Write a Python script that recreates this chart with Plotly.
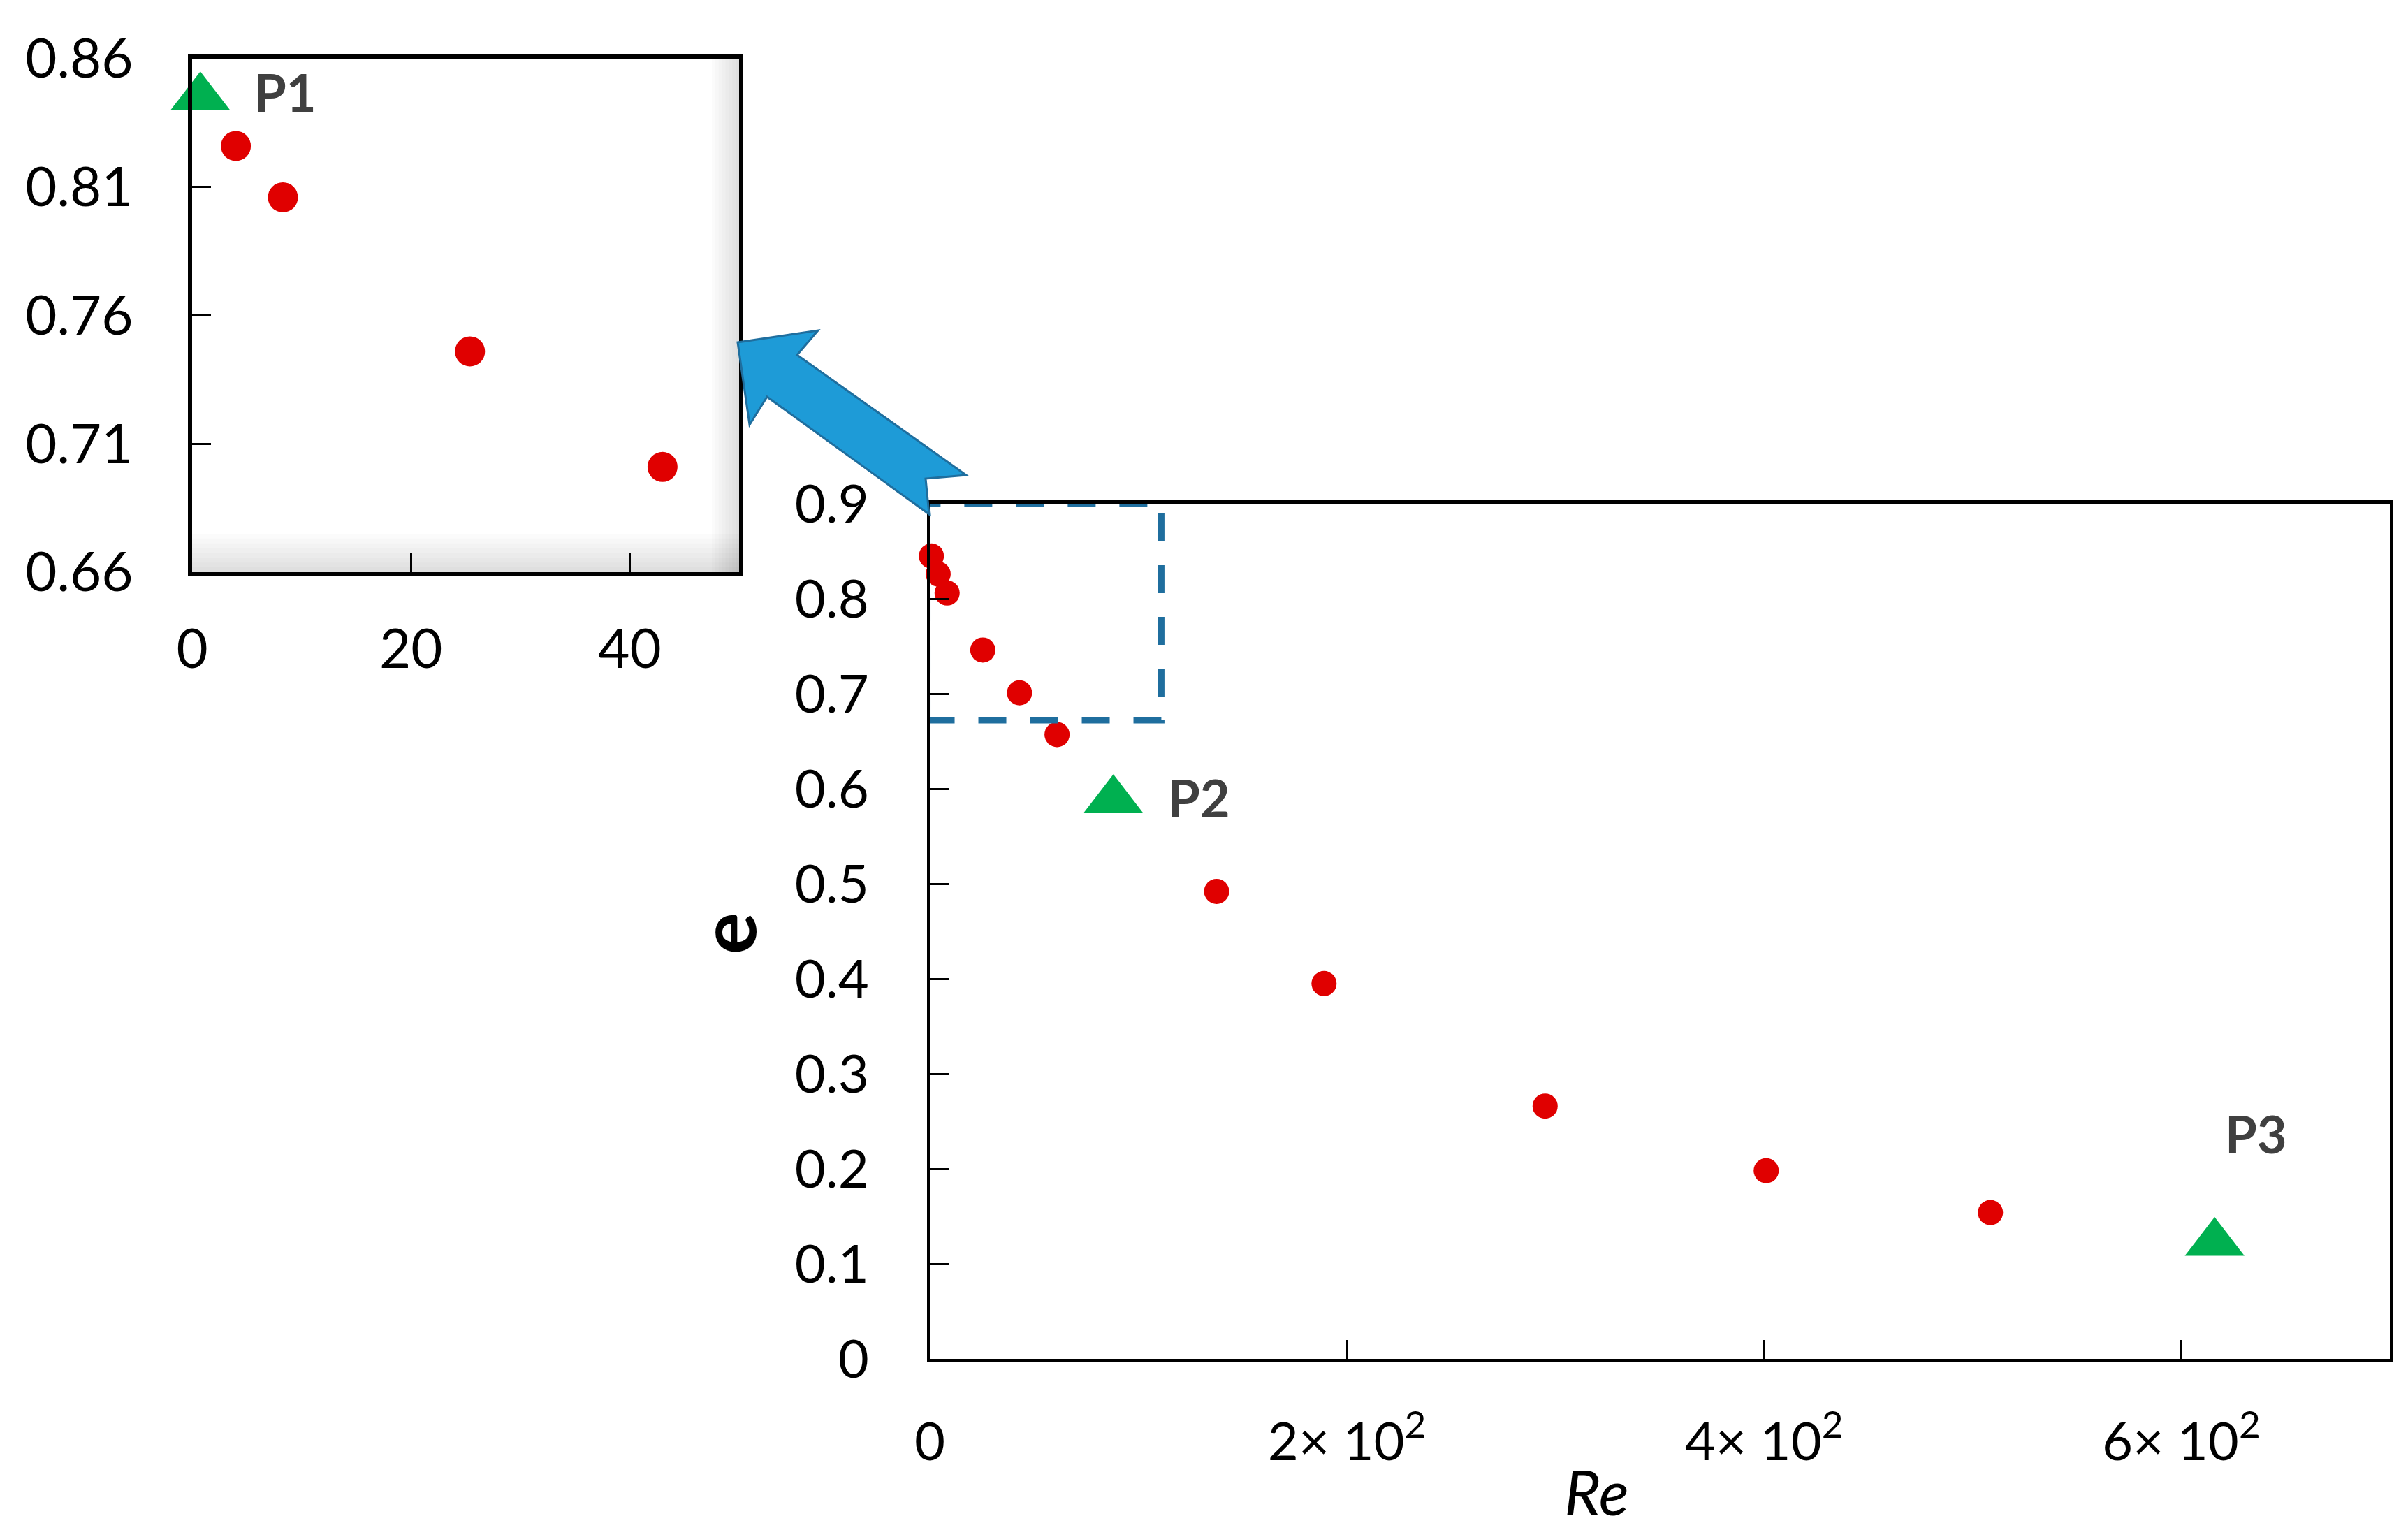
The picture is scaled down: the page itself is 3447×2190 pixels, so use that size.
import plotly.graph_objects as go

# measured points (Re, e)
re_pts = [4.0, 8.3, 25.4, 43.0, 61.0, 137.5, 189.0, 295.0, 401.0, 508.5]
e_pts = [0.826, 0.806, 0.746, 0.701, 0.657, 0.492, 0.395, 0.266, 0.198, 0.154]

# highlighted points
p_names = ['P1', 'P2', 'P3']
p_re = [0.75, 88.0, 616.0]
p_e = [0.845, 0.588, 0.122]

main_xticks = [0, 200, 400, 600]
main_xtext = ['0', '2× 10<sup>2</sup>', '4× 10<sup>2</sup>', '6× 10<sup>2</sup>']
main_yticks = [0, 0.1, 0.2, 0.3, 0.4, 0.5, 0.6, 0.7, 0.8, 0.9]
main_ytext = ['0', '0.1', '0.2', '0.3', '0.4', '0.5', '0.6', '0.7', '0.8', '0.9']
inset_xticks = [0, 20, 40]
inset_yticks = [0.66, 0.71, 0.76, 0.81, 0.86]
inset_ytext = ['0.66', '0.71', '0.76', '0.81', '0.86']

W, H = 3447, 2190
FONT = 'Lato'
RED = '#E00000'
GREEN = '#00B050'
DASH_BLUE = '#1F6E9E'


def px_x(v):
    return v / W


def px_y(v):
    return 1 - v / H


fig = go.Figure()

# main plot: P1 shown as a plain red point, P2/P3 as green triangles
fig.add_trace(go.Scatter(
    x=[p_re[0]] + re_pts, y=[p_e[0]] + e_pts, mode='markers',
    marker=dict(color=RED, size=36), cliponaxis=False,
    xaxis='x', yaxis='y', showlegend=False))
fig.add_trace(go.Scatter(
    x=p_re[1:], y=p_e[1:], mode='markers',
    marker=dict(color=GREEN, size=74, symbol='triangle-up'), cliponaxis=False,
    xaxis='x', yaxis='y', showlegend=False))

# inset (zoom on the low-Re points)
inset_re = [r for r in re_pts if r <= 50]
inset_e = [e for r, e in zip(re_pts, e_pts) if r <= 50]
fig.add_trace(go.Scatter(
    x=inset_re, y=inset_e, mode='markers',
    marker=dict(color=RED, size=43), cliponaxis=False,
    xaxis='x2', yaxis='y2', showlegend=False))
fig.add_trace(go.Scatter(
    x=[p_re[0]], y=[p_e[0]], mode='markers',
    marker=dict(color=GREEN, size=74, symbol='triangle-up'), cliponaxis=False,
    xaxis='x2', yaxis='y2', showlegend=False))

axis_common = dict(showgrid=False, zeroline=False, showline=True, linecolor='black',
                   mirror=True, ticks='inside', tickcolor='black', tickwidth=3,
                   ticklen=27, automargin=False)

fig.update_layout(
    width=W, height=H, autosize=False,
    margin=dict(l=0, r=0, t=0, b=0),
    paper_bgcolor='white', plot_bgcolor='white',
    font=dict(family=FONT, color='black'),
    xaxis=dict(domain=[px_x(1323), px_x(3413)], range=[0, 700], anchor='y',
               tickvals=main_xticks, ticktext=main_xtext, linewidth=5,
               tickfont=dict(size=76), ticklabelstandoff=49, **axis_common),
    yaxis=dict(domain=[px_y(1937), px_y(713)], range=[0, 0.9], anchor='x',
               tickvals=main_yticks, ticktext=main_ytext, linewidth=4,
               tickfont=dict(size=76), ticklabelstandoff=68, **axis_common),
    xaxis2=dict(domain=[px_x(267), px_x(1050)], range=[0, 50], anchor='y2',
                tickvals=inset_xticks, linewidth=6,
                tickfont=dict(size=78), ticklabelstandoff=37, **axis_common),
    yaxis2=dict(domain=[px_y(811), px_y(76)], range=[0.66, 0.86], anchor='x2',
                tickvals=inset_yticks, ticktext=inset_ytext, linewidth=6,
                tickfont=dict(size=78), ticklabelstandoff=63, **axis_common),
)

# point labels
label_offsets = {'P1': ('x2', 'y2', 7.8, 0.002),
                 'P2': ('x', 'y', 41, 0.003),
                 'P3': ('x', 'y', 20, 0.115)}
for name, r, e in zip(p_names, p_re, p_e):
    xr, yr, dx, dy = label_offsets[name]
    fig.add_annotation(x=r + dx, y=e + dy, xref=xr, yref=yr, text='<b>%s</b>' % name,
                       showarrow=False, xanchor='center', yanchor='middle',
                       font=dict(size=74, color='#404040'))

# axis titles
fig.add_annotation(x=px_x(1030), y=px_y(1328), xref='paper', yref='paper', text='<b>e</b>',
                   textangle=-90, showarrow=False, xanchor='center', yanchor='middle',
                   font=dict(size=112, color='black'))
fig.add_annotation(x=px_x(2277), y=px_y(2126), xref='paper', yref='paper', text='<i>Re</i>',
                   showarrow=False, xanchor='center', yanchor='middle',
                   font=dict(size=90, color='black'))

# bevel shading inside the inset frame
for i in range(1, 9):
    fig.add_shape(type='rect', xref='x2 domain', yref='y2 domain',
                  x0=1 - 0.05 * i / 8, x1=1, y0=0, y1=1, layer='below',
                  line=dict(width=0), fillcolor='rgba(0,0,0,0.016)')
    fig.add_shape(type='rect', xref='x2 domain', yref='y2 domain',
                  x0=0, x1=1, y0=0, y1=0.075 * i / 8, layer='below',
                  line=dict(width=0), fillcolor='rgba(0,0,0,0.014)')

# dashed box marking the zoomed region
fig.add_shape(type='rect', xref='x', yref='y', x0=-1.5, x1=111, y0=0.672, y1=0.9,
              line=dict(color=DASH_BLUE, width=9, dash='40px,34px'))

# block arrow from the box to the inset
arrow_px = [(1048, 482), (1163, 465), (1133, 500), (1375, 672), (1317, 677),
            (1322, 728), (1090, 560), (1065, 600)]
path = 'M ' + ' L '.join('%.5f,%.5f' % (px_x(a), px_y(b)) for a, b in arrow_px) + ' Z'
fig.add_shape(type='path', xref='paper', yref='paper', path=path,
              fillcolor='#1E9BD7', line=dict(color='#1F6E9E', width=3))

fig.write_html('out.html')
